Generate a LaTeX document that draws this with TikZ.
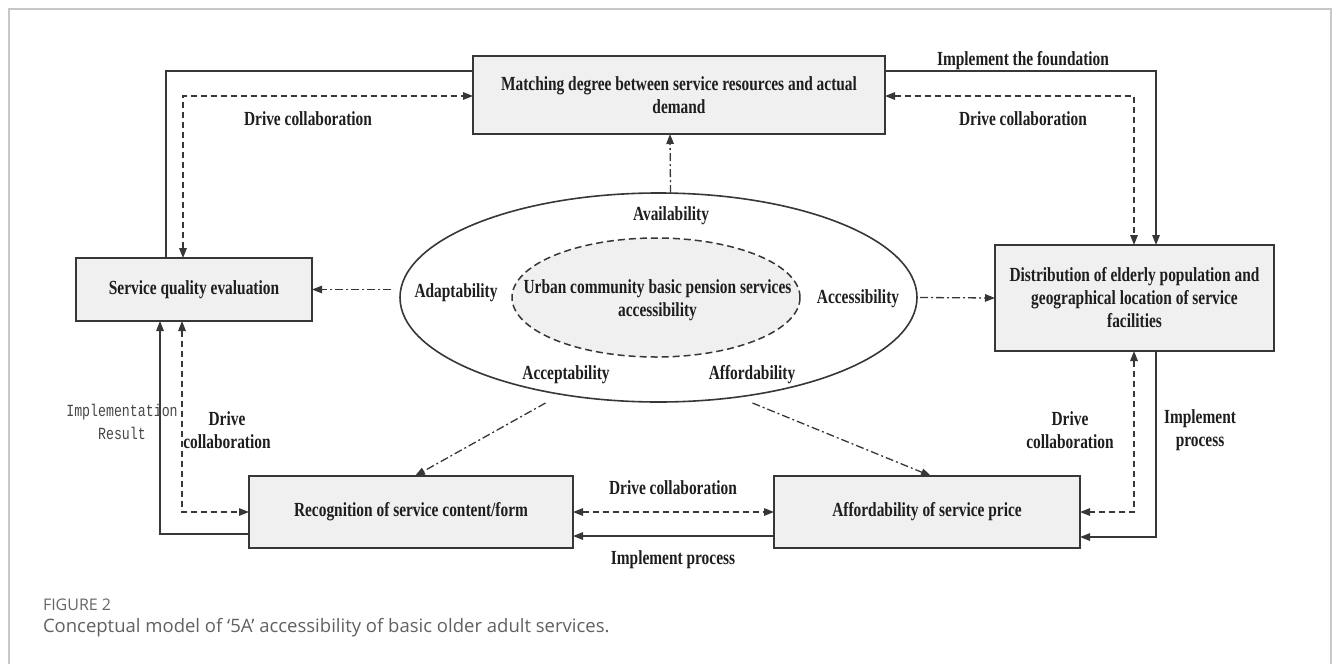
\documentclass[tikz,border=0pt]{standalone}
\usepackage{fontspec}
\usetikzlibrary{arrows.meta,shapes.geometric}
\newfontfamily\dfont{Liberation Serif}[FakeStretch=0.77]
\newfontfamily\mfont{Liberation Mono}[FakeStretch=0.78]
\newfontfamily\cfont{Open Sans}
\definecolor{lnc}{RGB}{55,55,55}
\definecolor{boxfill}{RGB}{240,240,240}
\definecolor{txtc}{RGB}{30,30,30}
\definecolor{framec}{RGB}{200,200,200}
\begin{document}
\begin{tikzpicture}[x=1pt,y=-1pt,
  every node/.style={inner sep=0pt,outer sep=0pt},
  dtext/.style={font=\dfont\bfseries\fontsize{20}{23}\selectfont, text=txtc, align=center},
  mtext/.style={font=\mfont\fontsize{17}{23}\selectfont, text=black!72, align=center},
  boxnode/.style={draw=lnc, line width=1.6pt, fill=boxfill, dtext},
  solidln/.style={draw=lnc, line width=1.4pt},
  dashln/.style={draw=lnc, line width=1.4pt, dash pattern=on 6pt off 4pt},
  ddln/.style={draw=lnc, line width=1.3pt, dash pattern=on 8pt off 3pt on 2pt off 3pt},
  >={Triangle[length=10pt,width=7.5pt]}
]
\useasboundingbox (0,0) rectangle (1333,664);
% outer frame
\draw[framec, line width=1.2pt] (9,664) -- (9,9) -- (1331,9) -- (1331,664);

% boxes
\node[boxnode, minimum width=412pt, minimum height=78pt] (top) at (679,95)
  {Matching degree between service resources and actual\\demand};
\node[boxnode, minimum width=236pt, minimum height=63pt] (sq) at (194,289.5)
  {Service quality evaluation};
\node[boxnode, minimum width=279pt, minimum height=106pt] (dist) at (1134.5,298)
  {Distribution of elderly population and\\geographical location of service\\facilities};
\node[boxnode, minimum width=324pt, minimum height=72pt] (rec) at (411,512)
  {Recognition of service content/form};
\node[boxnode, minimum width=306pt, minimum height=72pt] (aff) at (927,512)
  {Affordability of service price};

% ellipses
\node[ellipse, draw=lnc, line width=1.6pt, fill=white, minimum width=517pt, minimum height=209pt] (out) at (658.5,297.5) {};
\node[ellipse, draw=lnc, line width=1.5pt, fill=boxfill, dash pattern=on 7pt off 4pt, minimum width=288pt, minimum height=119pt] (inn) at (656,297.5) {};
\node[dtext] (core) at (657.5,300) {Urban community basic pension services\\accessibility};
\node[dtext] (lavail) at (671,216) {Availability};
\node[dtext] (ladapt) at (456,293) {Adaptability};
\node[dtext] (laccess) at (858,299) {Accessibility};
\node[dtext] (laccept) at (566,375) {Acceptability};
\node[dtext] (lafford) at (752,375) {Affordability};

% top connectors
\draw[solidln] ([xshift=90pt]sq.north west) |- ([yshift=-15pt]top.north west);
\draw[dashln,<->] ([xshift=107pt]sq.north west) |- ([yshift=-40pt]top.north west);
\draw[solidln,->] ([yshift=-15pt]top.north east) -| ([xshift=161pt]dist.north west);
\draw[dashln,<->] ([yshift=-40pt]top.north east) -| ([xshift=139pt]dist.north west);

% right-bottom connectors
\draw[dashln,<->] ([xshift=139pt]dist.south west) |- (aff.east);
\draw[solidln,->] ([xshift=161pt]dist.south west) |- ([yshift=-61pt]aff.north east);

% bottom middle
\draw[dashln,<->] (rec.east) -- (aff.west);
\draw[solidln,->] ([yshift=-24pt]aff.west) -- ([yshift=-24pt]rec.east);

% left connectors
\draw[solidln,->] ([yshift=-22pt]rec.west) -| ([xshift=84pt]sq.south west);
\draw[dashln,<->] ([xshift=106pt]sq.south west) |- (rec.west);

% dash-dot arrows from ellipse
\draw[ddln,->] ([xshift=12pt]out.north) -- ([xshift=-9pt]top.south);
\draw[ddln,->] ([xshift=-9pt,yshift=8pt]out.west) -- (sq.east);
\draw[ddln,->] ([xshift=3pt]out.east) -- (dist.west);
\draw[ddln,->] ([xshift=-113pt,yshift=-1pt]out.south) -- ([xshift=4pt]rec.north);
\draw[ddln,->] ([xshift=94pt,yshift=-1pt]out.south) -- ([xshift=4pt]aff.north);

% connector labels
\node[dtext] (l1) at (308,119) {Drive collaboration};
\node[dtext] (l2) at (1023,61) {Implement the foundation};
\node[dtext] (l3) at (1023,119) {Drive collaboration};
\node[mtext] (l4) at (122,422) {Implementation\\Result};
\node[dtext] (l5) at (227,430) {Drive\\collaboration};
\node[dtext] (l6) at (673,488) {Drive collaboration};
\node[dtext] (l7) at (673,560) {Implement process};
\node[dtext] (l8) at (1070,430) {Drive\\collaboration};
\node[dtext] (l9) at (1200,430) {Implement\\process};

% caption
\node[anchor=west, font=\cfont\fontsize{16}{18}\selectfont, text=black!60] (cap1) at (43,605) {FIGURE 2};
\node[anchor=west, font=\cfont\fontsize{18.5}{21}\selectfont, text=black!62] (cap2) at (43,628) {Conceptual model of ‘5A’ accessibility of basic older adult services.};
\end{tikzpicture}
\end{document}
